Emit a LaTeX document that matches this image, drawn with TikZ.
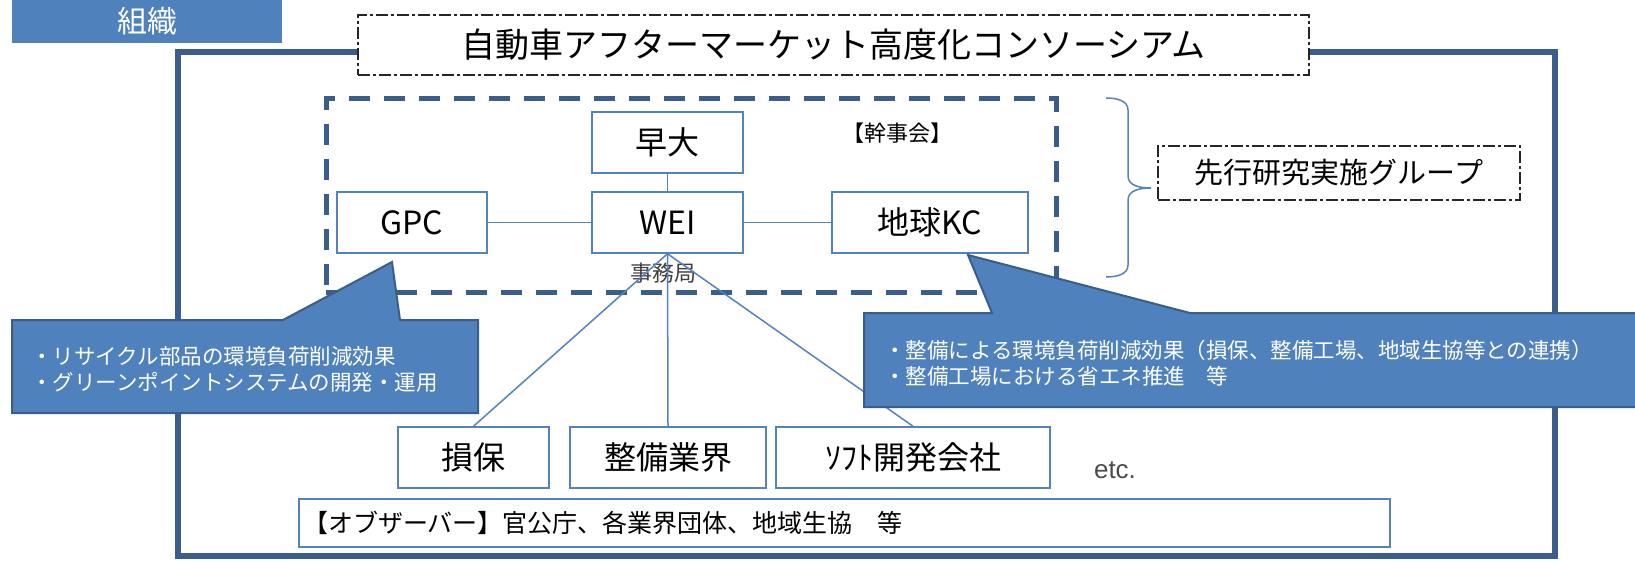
\documentclass[tikz,border=0pt]{standalone}
\usepackage{fontspec}
\setmainfont{Liberation Sans}
\newfontfamily\jpfont{Noto Sans CJK JP}
\usepackage{xcolor}
\usetikzlibrary{positioning}
\definecolor{frameblue}{RGB}{58,93,140}
\definecolor{lineblue}{RGB}{84,130,190}
\definecolor{noteblue}{RGB}{79,129,189}
\newcommand\member[4]{\node[member,minimum width=#3] (#1) at (#2) {#4};}
\newcommand\tie[2]{\draw[tie] (#1) -- (#2);}

\begin{document}
\begin{tikzpicture}[x=1pt,y=-1pt]
\tikzstyle{member}=[draw=lineblue,line width=1.5pt,fill=white,minimum height=61pt,inner sep=0pt,font=\jpfont\fontsize{32}{38}\selectfont]
\tikzstyle{tie}=[draw=lineblue,line width=1.5pt]
\tikzstyle{dashdot}=[draw=black!85,line width=1.2pt,dash pattern=on 12pt off 3pt on 3pt off 3pt,fill=white,inner sep=0pt]
\tikzstyle{note}=[fill=noteblue,draw=frameblue,line width=2pt,line join=miter]
\tikzstyle{notetext}=[text=white,align=left,inner sep=0pt,font=\jpfont\fontsize{21.5}{26}\selectfont]
\useasboundingbox (0,0) rectangle (1635,560);
% heading tab
\fill[noteblue] (12,-5) rectangle (282,43);
\node[text=white,font=\jpfont\fontsize{30}{36}\selectfont] (tab) at (147,21) {組織};
% consortium frame
\draw[frameblue,line width=5.5pt] (178,52) rectangle (1555,556);
\node[dashdot,minimum width=951pt,minimum height=60pt,font=\jpfont\fontsize{34}{40}\selectfont] (title) at (833.5,45) {自動車アフターマーケット高度化コンソーシアム};
% board
\node[draw=frameblue,line width=5pt,dash pattern=on 21pt off 14pt,minimum width=730pt,minimum height=194pt] (board) at (691,195) {};
\node[font=\jpfont\fontsize{22}{26}\selectfont] (boardlabel) at (897,133) {【幹事会】};
\member{soudai}{667.5,142.5}{151pt}{早大}
\member{wei}{667.5,222.5}{151pt}{WEI}
\member{gpc}{412,222.5}{150pt}{GPC}
\member{chikyu}{930,222.5}{196pt}{地球KC}
\node[text=black!75,font=\jpfont\fontsize{22}{26}\selectfont] (office) at (663,273) {事務局};
\tie{soudai}{wei}
\tie{gpc}{wei}
\tie{wei}{chikyu}
% members below
\member{sonpo}{473.5,457.5}{151pt}{損保}
\member{seibi}{668,457.5}{196pt}{整備業界}
\member{soft}{913,457.5}{274pt}{ｿﾌﾄ開発会社}
\tie{wei.south}{sonpo.north}
\tie{wei.south}{seibi.north}
\tie{wei.south}{soft.north}
\node[text=black!70,font=\fontsize{26}{30}\selectfont] (etc) at (1115,470) {etc.};
\node[draw=lineblue,line width=1.5pt,minimum height=48pt,text width=1083pt,inner xsep=4pt,inner ysep=0pt,align=left,font=\jpfont\fontsize{25}{30}\selectfont] (observer) at (844.5,523) {【オブザーバー】官公庁、各業界団体、地域生協　等};
% research group
\draw[tie] (1106,98) to[out=0,in=90] (1128,110) -- (1128,176) to[out=-90,in=180] (1151,188) to[out=180,in=90] (1128,200) -- (1128,265) to[out=-90,in=0] (1106,277);
\node[dashdot,minimum width=362pt,minimum height=54pt,font=\jpfont\fontsize{29}{34}\selectfont] (advance) at (1339,173) {先行研究実施グループ};
% callouts
\filldraw[note] (12,320) -- (283,320) -- (392,262) -- (400,320) -- (478,320) -- (478,413) -- (12,413) -- cycle;
\node[notetext,anchor=west] (gpcnote) at (31,369.5) {・リサイクル部品の環境負荷削減効果\\・グリーンポイントシステムの開発・運用};
\filldraw[note] (864,313) -- (992,313) -- (968,255) -- (1190,313) -- (1650,313) -- (1650,407) -- (864,407) -- cycle;
\node[notetext,anchor=west] (kcnote) at (884,363.5) {・整備による環境負荷削減効果（損保、整備工場、地域生協等との連携）\\・整備工場における省エネ推進　等};
\end{tikzpicture}
\end{document}
